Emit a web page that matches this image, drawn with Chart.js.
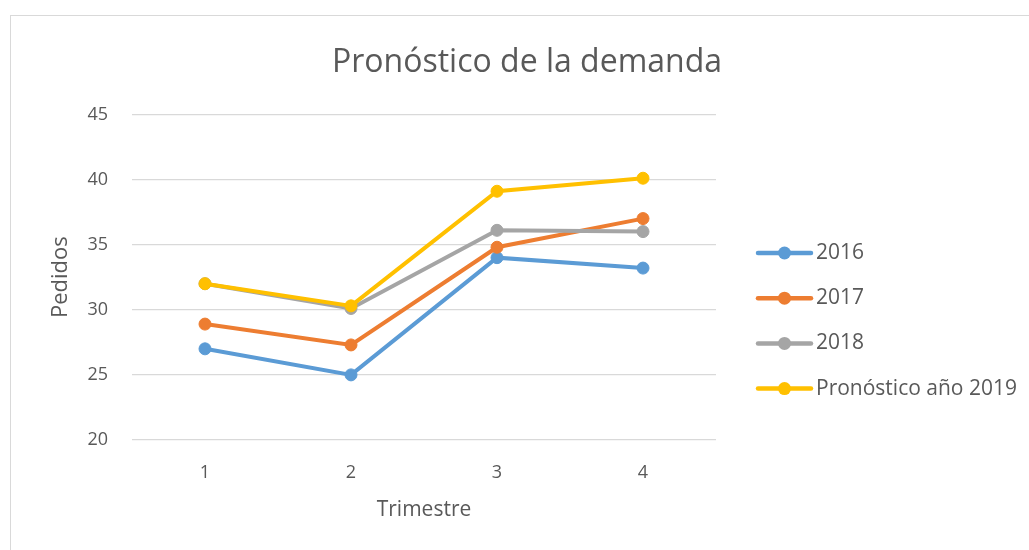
<!DOCTYPE html>
<html>
<head>
<meta charset="utf-8">
<script src="https://cdn.jsdelivr.net/npm/chart.js@4.4.0/dist/chart.umd.min.js"></script>
<style>
  body { margin: 0; background: #fff; }
  #wrap { position: relative; width: 1029px; height: 550px; overflow: hidden; }
  #frame { position: absolute; left: 10px; top: 15px; width: 1100px; height: 600px; border: 1.5px solid #d9d9d9; }
  #myChart { position: absolute; left: 0; top: 0; }
</style>
</head>
<body>
<div id="wrap">
  <div id="frame"></div>
  <canvas id="myChart" width="1029" height="550"></canvas>
</div>
<script>
let trimestres = ['1', '2', '3', '4'];
let serie2016 = [27, 25, 34, 33.2];
let serie2017 = [28.9, 27.3, 34.8, 37];
let serie2018 = [32, 30.1, 36.1, 36];
let pronostico2019 = [32, 30.3, 39.1, 40.1];
let nombres = ['2016', '2017', '2018', 'Pronóstico año 2019'];
let colores = ['#5B9BD5', '#ED7D31', '#A5A5A5', '#FFC000'];

let gris = '#595959';
let fuente = 'Open Sans';

function serie(i, data) {
    return {
        label: nombres[i],
        data: data,
        borderColor: colores[i],
        backgroundColor: colores[i],
        pointBackgroundColor: colores[i],
        pointBorderColor: colores[i],
        borderWidth: 4,
        pointRadius: 6,
        pointBorderWidth: 1,
        tension: 0,
        yAxisID: 'y',
        order: 3 - i
    };
}

// leyenda a la derecha, como en Excel
const leyenda = {
    id: 'leyenda',
    afterDraw(chart) {
        const c = chart.ctx;
        c.save();
        chart.data.datasets.forEach((ds, i) => {
            let y = 253 + i * 45.2;
            c.strokeStyle = ds.borderColor;
            c.lineWidth = 4.5;
            c.lineCap = 'round';
            c.beginPath();
            c.moveTo(758, y);
            c.lineTo(811, y);
            c.stroke();
            c.fillStyle = ds.borderColor;
            c.beginPath();
            c.arc(784.5, y, 6.5, 0, Math.PI * 2);
            c.fill();
            c.fillStyle = gris;
            c.font = `21px "${fuente}"`;
            c.textBaseline = 'middle';
            c.fillText(ds.label, 816, y);
        });
        c.restore();
    }
};

var ctx = document.getElementById('myChart').getContext('2d');
var myChart = new Chart(ctx, {
    type: 'line',
    data: {
        labels: trimestres,
        datasets: [
            serie(0, serie2016),
            serie(1, serie2017),
            serie(2, serie2018),
            serie(3, pronostico2019)
        ]
    },
    options: {
        responsive: false,
        animation: false,
        layout: { padding: { left: 25, right: 0, top: 0, bottom: 0 } },
        plugins: {
            legend: { display: false },
            tooltip: { enabled: false },
            title: {
                display: true,
                text: 'Pronóstico de la demanda',
                color: gris,
                font: { family: fuente, size: 32, weight: 'normal' },
                padding: { top: 44, bottom: 32 }
            }
        },
        scales: {
            x: {
                offset: true,
                grid: { display: false, drawTicks: false },
                border: { display: false },
                ticks: { color: gris, font: { family: fuente, size: 18 }, padding: 22 },
                title: {
                    display: true,
                    text: 'Trimestre',
                    color: gris,
                    font: { family: fuente, size: 21 },
                    padding: { top: 0, bottom: 27 }
                },
                afterFit: (s) => { s.height = 110; }
            },
            y: {
                min: 20,
                max: 45,
                ticks: { stepSize: 5, color: gris, font: { family: fuente, size: 18 }, padding: 24 },
                grid: { color: '#d9d9d9', lineWidth: 1.3, drawTicks: false },
                border: { display: false },
                title: {
                    display: true,
                    text: 'Pedidos',
                    color: gris,
                    font: { family: fuente, size: 22 },
                    padding: { top: 23, bottom: 0 }
                },
                afterFit: (s) => { s.width = 107; }
            },
            // espacio reservado para la leyenda
            hueco: {
                type: 'linear',
                position: 'right',
                ticks: { display: false },
                grid: { display: false, drawTicks: false },
                border: { display: false },
                afterFit: (s) => { s.width = 313; }
            }
        }
    },
    plugins: [leyenda]
});
</script>
</body>
</html>
